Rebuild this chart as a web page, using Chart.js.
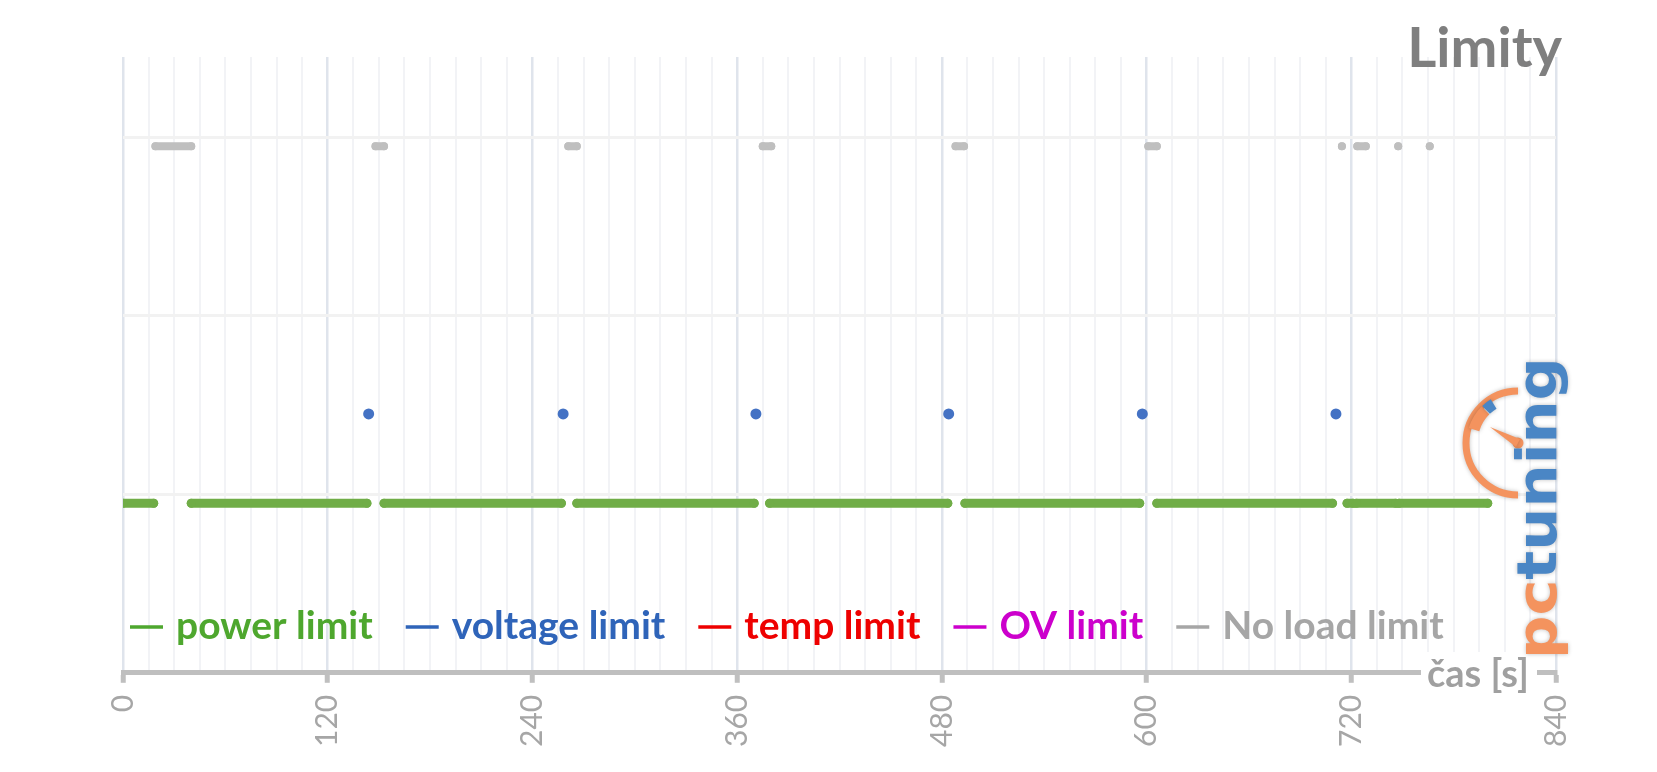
<!DOCTYPE html>
<html>
<head>
<meta charset="utf-8">
<script src="https://cdn.jsdelivr.net/npm/chart.js@4/dist/chart.umd.min.js"></script>
<style>
  html, body { margin: 0; padding: 0; background: #ffffff; }
  #wrap { width: 1657px; height: 772px; position: relative; }
</style>
</head>
<body>
<div id="wrap"><canvas id="c"></canvas></div>
<script>
// ---- data (time in seconds) ----
const seriesLabels = ['power limit', 'voltage limit', 'temp limit', 'OV limit', 'No load limit'];
const seriesLevels = [0.95, 1.45, 1.95, 2.45, 2.95];
const powerSegments = [[0, 18], [40, 143], [153, 257], [266, 370], [379, 483.5], [493.5, 596], [606, 709], [717.5, 721], [723, 746], [748, 800]];
const voltagePoints = [144, 258, 371, 484, 597.5, 711];
const tempPoints = [];
const ovPoints = [];
const noLoadSegments = [[19, 40], [148, 153], [261, 266], [375, 380], [488, 493], [601, 606], [714.5], [723.5, 728.5], [747.5], [766]];
const xTickLabels = [0, 120, 240, 360, 480, 600, 720, 840];

// ---- build line data from segments (null = gap) ----
function segmentsToPoints(segs, y) {
  const pts = [];
  segs.forEach((s, i) => {
    if (i > 0) pts.push({ x: (segs[i - 1][segs[i - 1].length - 1] + s[0]) / 2, y: null });
    s.forEach(x => pts.push({ x: x, y: y }));
  });
  return pts;
}
function pointsAt(xs, y) { return xs.map(x => ({ x: x, y: y })); }

const lineColors = ['#70ad47', '#4472c4', '#ff0000', '#cc00cc', '#bfbfbf'];
const legendColors = ['#4ea72e', '#2f64b9', '#ee0000', '#cc00cc', '#a6a6a6'];

const overlay = {
  id: 'overlay',
  afterDraw(chart) {
    const ctx = chart.ctx, a = chart.chartArea;
    ctx.save();
    // legend inside plot area
    ctx.font = 'bold 39px Lato';
    ctx.textBaseline = 'alphabetic';
    ctx.textAlign = 'left';
    let x = a.left + 7;
    chart.data.datasets.forEach((ds, i) => {
      ctx.strokeStyle = legendColors[i];
      ctx.lineWidth = 3.5;
      ctx.beginPath(); ctx.moveTo(x, 627); ctx.lineTo(x + 33, 627); ctx.stroke();
      x += 46;
      ctx.fillStyle = legendColors[i];
      ctx.fillText(ds.label, x, 639);
      x += ctx.measureText(ds.label).width + 33;
    });
    // chart title
    ctx.font = 'bold 56px Lato';
    ctx.fillStyle = '#7f7f7f';
    ctx.textAlign = 'right';
    ctx.fillText('Limity', 1562, 67);
    // x axis title with white box
    ctx.fillStyle = '#ffffff';
    ctx.fillRect(1421, 652, 116, 46);
    ctx.font = 'bold 38px Lato';
    ctx.fillStyle = '#a0a0a0';
    ctx.textAlign = 'left';
    ctx.fillText('čas [s]', 1427, 687);
    // watermark logo
    ctx.shadowColor = 'rgba(0,0,0,0.25)';
    ctx.shadowBlur = 4;
    const cx = 1518, cy = 443;
    ctx.strokeStyle = '#f4935e';
    ctx.lineWidth = 7;
    ctx.beginPath(); ctx.arc(cx, cy, 52, Math.PI / 2, Math.PI * 1.5); ctx.stroke();
    ctx.lineWidth = 11;
    ctx.beginPath(); ctx.arc(cx, cy, 46, Math.PI * 197 / 180, Math.PI * 225 / 180); ctx.stroke();
    ctx.strokeStyle = '#4a86c5';
    ctx.beginPath(); ctx.arc(cx, cy, 46, Math.PI * 226 / 180, Math.PI * 238 / 180); ctx.stroke();
    ctx.fillStyle = '#f4935e';
    ctx.beginPath(); ctx.arc(cx, cy, 5.5, 0, Math.PI * 2); ctx.fill();
    ctx.beginPath();
    ctx.moveTo(cx - 28, cy - 16);
    ctx.lineTo(cx + 2, cy - 4);
    ctx.lineTo(cx - 2, cy + 4);
    ctx.closePath(); ctx.fill();
    // logo text
    ctx.translate(1556, 659);
    ctx.rotate(-Math.PI / 2);
    ctx.font = 'bold 56px "DejaVu Sans"';
    const w1 = ctx.measureText('pc').width, w2 = ctx.measureText('tuning').width;
    const sx = 302 / (w1 + w2);
    ctx.scale(sx, 1);
    ctx.fillStyle = '#f4935e';
    ctx.fillText('pc', 0, 0);
    ctx.fillStyle = '#4a86c5';
    ctx.fillText('tuning', w1, 0);
    ctx.restore();
  }
};

new Chart(document.getElementById('c'), {
  type: 'line',
  data: {
    datasets: [
      { label: seriesLabels[0], data: segmentsToPoints(powerSegments, seriesLevels[0]),
        borderColor: lineColors[0], backgroundColor: lineColors[0], borderWidth: 9, borderCapStyle: 'round',
        pointRadius: 4.5, pointBorderWidth: 0, spanGaps: false },
      { label: seriesLabels[1], data: pointsAt(voltagePoints, seriesLevels[1]),
        borderColor: lineColors[1], backgroundColor: lineColors[1], showLine: false,
        pointRadius: 5.5, pointBorderWidth: 0 },
      { label: seriesLabels[2], data: pointsAt(tempPoints, seriesLevels[2]),
        borderColor: lineColors[2], backgroundColor: lineColors[2], showLine: false, pointRadius: 5, pointBorderWidth: 0 },
      { label: seriesLabels[3], data: pointsAt(ovPoints, seriesLevels[3]),
        borderColor: lineColors[3], backgroundColor: lineColors[3], showLine: false, pointRadius: 5, pointBorderWidth: 0 },
      { label: seriesLabels[4], data: segmentsToPoints(noLoadSegments, seriesLevels[4]),
        borderColor: lineColors[4], backgroundColor: lineColors[4], borderWidth: 8, borderCapStyle: 'round',
        pointRadius: 4, pointBorderWidth: 0, spanGaps: false }
    ]
  },
  options: {
    responsive: true,
    maintainAspectRatio: false,
    animation: false,
    events: [],
    layout: { padding: { left: 123, right: 101, top: 57, bottom: 13 } },
    plugins: { legend: { display: false }, title: { display: false }, tooltip: { enabled: false } },
    scales: {
      x: {
        type: 'linear', min: 0, max: 840,
        ticks: {
          stepSize: 15, maxTicksLimit: 100, autoSkip: false,
          minRotation: 90, maxRotation: 90, padding: 12,
          color: '#a6a6a6', font: { family: 'Lato', size: 30 },
          callback: v => (xTickLabels.includes(v) ? String(v) : '')
        },
        grid: {
          color: c => (xTickLabels.includes(c.tick.value) ? '#dfe4ec' : '#f2f3f6'),
          lineWidth: c => (xTickLabels.includes(c.tick.value) ? 2.5 : 2),
          tickColor: c => (xTickLabels.includes(c.tick.value) ? '#bfbfbf' : 'rgba(0,0,0,0)'),
          tickLength: 10, tickWidth: 5
        },
        border: { display: true, color: '#bfbfbf', width: 5 }
      },
      y: {
        min: 0, max: 3.45,
        ticks: { display: false, stepSize: 1 },
        grid: {
          color: c => (Number.isInteger(c.tick.value) && c.tick.value > 0 ? '#f2f2f2' : 'rgba(0,0,0,0)'),
          lineWidth: 3, drawTicks: false
        },
        border: { display: false }
      }
    }
  },
  plugins: [overlay]
});
</script>
</body>
</html>
